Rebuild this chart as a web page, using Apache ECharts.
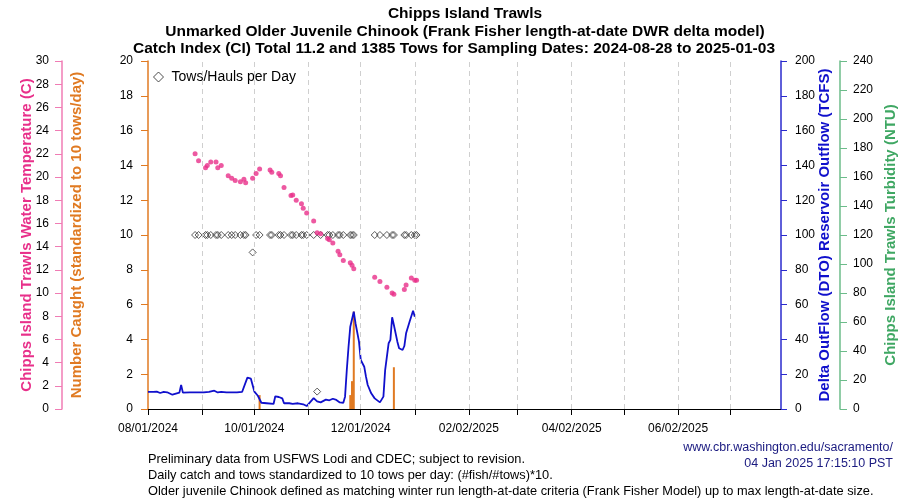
<!DOCTYPE html>
<html><head><meta charset="utf-8">
<script src="https://cdn.jsdelivr.net/npm/echarts@6/dist/echarts.min.js"></script>
<style>html,body{margin:0;padding:0;background:#fff}#c{width:900px;height:500px}</style>
</head><body><div id="c"></div>
<script>
// ---- data ----
const xStartDate = '2024-08-01';
const xEndDate = '2025-07-30';
const monthTicks = ['2024-08-01','2024-09-01','2024-10-01','2024-11-01','2024-12-01','2025-01-01',
  '2025-02-01','2025-03-01','2025-04-01','2025-05-01','2025-06-01','2025-07-01'];
const labelDates = ['2024-08-01','2024-10-01','2024-12-01','2025-02-01','2025-04-01','2025-06-01'];
const tickLabels = ['08/01/2024','10/01/2024','12/01/2024','02/02/2025','04/02/2025','06/02/2025'];

const tempDates = ['2024-08-28','2024-08-30','2024-09-03','2024-09-04','2024-09-06','2024-09-09','2024-09-10',
  '2024-09-12','2024-09-16','2024-09-18','2024-09-20','2024-09-23','2024-09-25','2024-09-26','2024-09-30',
  '2024-10-02','2024-10-04','2024-10-10','2024-10-11','2024-10-15','2024-10-16','2024-10-18','2024-10-22',
  '2024-10-23','2024-10-25','2024-10-28','2024-10-29','2024-10-31','2024-11-04','2024-11-06','2024-11-08',
  '2024-11-12','2024-11-13','2024-11-15','2024-11-18','2024-11-19','2024-11-21','2024-11-25','2024-11-26',
  '2024-11-27','2024-12-09','2024-12-12','2024-12-16','2024-12-19','2024-12-20','2024-12-26','2024-12-27',
  '2024-12-30','2025-01-01','2025-01-02'];
const tempValues = [22.0,21.4,20.8,21.0,21.3,21.3,20.8,
  21.0,20.1,19.9,19.7,19.6,19.8,19.5,19.9,
  20.3,20.7,20.6,20.4,20.3,20.1,19.1,18.4,
  18.45,18.0,17.7,17.3,16.9,16.2,15.2,15.1,
  14.7,14.6,14.3,13.6,13.3,12.8,12.6,12.4,
  12.1,11.35,11.0,10.5,10.0,9.9,10.3,10.7,
  11.3,11.1,11.1];

const towDates = tempDates;
const towValues = [10,10,10,10,10,10,10,
  10,10,10,10,10,10,10,9,
  10,10,10,10,10,10,10,10,
  10,10,10,10,10,10,1,10,
  10,10,10,10,10,10,10,10,
  10,10,10,10,10,10,10,10,
  10,10,10];

const catchDates = ['2024-10-04','2024-11-25','2024-11-26','2024-11-27','2024-12-20'];
const catchValues = [0.8,0.8,1.6,5.6,2.4];

const flowDates = ['2024-08-01','2024-08-04','2024-08-06','2024-08-08','2024-08-10','2024-08-12','2024-08-15',
  '2024-08-17','2024-08-19','2024-08-20','2024-08-21','2024-08-25','2024-08-29','2024-09-02','2024-09-05',
  '2024-09-08','2024-09-10','2024-09-12','2024-09-15','2024-09-18','2024-09-21','2024-09-24','2024-09-25',
  '2024-09-27','2024-09-29','2024-09-30','2024-10-01','2024-10-03','2024-10-05','2024-10-08','2024-10-12',
  '2024-10-13','2024-10-15','2024-10-17','2024-10-18','2024-10-21','2024-10-23','2024-10-26','2024-10-27',
  '2024-10-29','2024-10-31','2024-11-02','2024-11-04','2024-11-06','2024-11-08','2024-11-09','2024-11-11',
  '2024-11-12','2024-11-13','2024-11-15','2024-11-17','2024-11-19','2024-11-21','2024-11-22','2024-11-23',
  '2024-11-24','2024-11-25','2024-11-27','2024-11-28','2024-11-30','2024-12-01','2024-12-03','2024-12-04',
  '2024-12-05','2024-12-07','2024-12-09','2024-12-12','2024-12-14','2024-12-15','2024-12-17','2024-12-18',
  '2024-12-19','2024-12-20','2024-12-22','2024-12-23','2024-12-25','2024-12-26','2024-12-27','2024-12-29',
  '2024-12-31','2025-01-01'];
const flowValues = [9.8,9.8,10.0,9.2,9.8,9.6,8.2,
  8.8,9.4,13.8,9.4,9.5,9.5,9.5,9.8,
  10.5,9.5,9.9,9.5,9.6,9.5,9.9,9.4,
  18.0,17.4,17.4,10.0,7.6,3.6,3.3,2.9,
  7.3,6.9,6.1,3.3,3.3,3.0,3.3,2.7,
  2.7,1.7,4.0,6.3,4.4,3.8,4.6,5.4,
  6.3,5.0,5.9,5.2,3.8,3.6,7.1,22.4,
  35.8,47.3,55.9,49.3,38.7,28.2,24.3,18.6,
  13.8,9.0,6.1,3.8,7.1,22.4,37.8,39.7,
  52.7,48.3,38.7,34.9,33.9,36.2,43.5,50.2,
  56.5,53.0];

// ---- helpers ----
function ts(d){ const p = d.split('-').map(Number); return Date.UTC(p[0], p[1]-1, p[2]); }
function pairs(ds, vs){ return ds.map((d,i)=>[ts(d), vs[i]]); }
const labelMap = {};
labelDates.forEach((d,i)=>{ labelMap[ts(d)] = tickLabels[i]; });

const FONT = 'Liberation Sans';
const PINK = '#E8308A', ORANGE = '#E07A22', BLUE = '#1010CC', GREEN = '#3FA763';
const titleStyle = {fontFamily: FONT, fontSize: 15.5, fontWeight: 'bold', color: '#000'};

const chart = echarts.init(document.getElementById('c'), null, {renderer:'canvas'});
chart.setOption({
  animation: false,
  backgroundColor: '#fff',
  textStyle: {fontFamily: FONT},
  title: [
    {text: 'Chipps Island Trawls', left: 465, top: 6, textAlign: 'center', padding: 0, textStyle: titleStyle},
    {text: 'Unmarked Older Juvenile Chinook (Frank Fisher length-at-date DWR delta model)', left: 465, top: 24, textAlign: 'center', padding: 0, textStyle: titleStyle},
    {text: 'Catch Index (CI) Total 11.2 and 1385 Tows for Sampling Dates: 2024-08-28 to 2025-01-03', left: 454, top: 41, textAlign: 'center', padding: 0, textStyle: titleStyle},
    {text: 'Preliminary data from USFWS Lodi and CDEC; subject to revision.\nDaily catch and tows standardized to 10 tows per day: (#fish/#tows)*10.\nOlder juvenile Chinook defined as matching winter run length-at-date criteria (Frank Fisher Model) up to max length-at-date size.',
     left: 148, top: 451, padding: 0,
     textStyle: {fontFamily: FONT, fontSize: 12.8, fontWeight: 'normal', color: '#000', lineHeight: 16}},
    {text: 'www.cbr.washington.edu/sacramento/\n04 Jan 2025 17:15:10 PST',
     left: 893, top: 440, textAlign: 'right', padding: 0,
     textStyle: {fontFamily: FONT, fontSize: 12.5, fontWeight: 'normal', color: '#1A1A80', lineHeight: 16, align: 'right'}}
  ],
  legend: {
    data: [{name: 'Tows/Hauls per Day', icon: 'diamond',
            itemStyle: {color: '#fff', borderColor: '#222', borderWidth: 1}}],
    left: 153, top: 70, itemWidth: 10, itemHeight: 10, itemGap: 5, padding: 0,
    textStyle: {fontFamily: FONT, fontSize: 14, color: '#000', padding: [0,0,0,3]}
  },
  grid: {left: 148, right: 119, top: 61, bottom: 91, containLabel: false, outerBoundsMode: 'none'},
  xAxis: {
    type: 'value', min: ts(xStartDate), max: ts(xEndDate),
    axisLine: {show: true, onZero: false, lineStyle: {color: '#000', width: 1}},
    axisTick: {show: true, length: 6, lineStyle: {color: '#000'}, customValues: monthTicks.map(ts)},
    axisLabel: {show: true, fontFamily: FONT, fontSize: 12, color: '#000', margin: 14,
      customValues: labelDates.map(ts),
      formatter: function(v){ return labelMap[v] || ''; }},
    splitLine: {show: false}
  },
  yAxis: [
    {type: 'value', position: 'left', offset: 0, min: 0, max: 20, interval: 2,
     name: 'Number Caught (standardized to 10 tows/day)', nameLocation: 'middle', nameGap: 64, nameMoveOverlap: false,
     nameTextStyle: {fontFamily: FONT, fontSize: 15, fontWeight: 'bold', color: ORANGE},
     axisLine: {show: true, lineStyle: {color: ORANGE, width: 1.5}},
     axisTick: {show: true, length: 7, lineStyle: {color: ORANGE}},
     axisLabel: {fontFamily: FONT, fontSize: 12, color: '#000', margin: 15},
     splitLine: {show: false}},
    {type: 'value', position: 'left', offset: 86, min: 0, max: 30, interval: 2,
     name: 'Chipps Island Trawls Water Temperature (C)', nameLocation: 'middle', nameGap: 28, nameMoveOverlap: false,
     nameTextStyle: {fontFamily: FONT, fontSize: 15, fontWeight: 'bold', color: PINK},
     axisLine: {show: true, lineStyle: {color: '#F07CB4', width: 1.5}},
     axisTick: {show: true, length: 7, lineStyle: {color: '#F07CB4'}},
     axisLabel: {fontFamily: FONT, fontSize: 12, color: '#000', margin: 13},
     splitLine: {show: false}},
    {type: 'value', position: 'right', offset: 0, min: 0, max: 200, interval: 20,
     name: 'Delta OutFlow (DTO) Reservoir Outflow (TCFS)', nameLocation: 'middle', nameGap: 36, nameMoveOverlap: false,
     nameTextStyle: {fontFamily: FONT, fontSize: 15, fontWeight: 'bold', color: BLUE},
     axisLine: {show: true, lineStyle: {color: '#2A2ACC', width: 1.5}},
     axisTick: {show: true, length: 6, lineStyle: {color: '#2A2ACC'}},
     axisLabel: {fontFamily: FONT, fontSize: 12, color: '#000', margin: 14},
     splitLine: {show: false}},
    {type: 'value', position: 'right', offset: 59, min: 0, max: 240, interval: 20,
     name: 'Chipps Island Trawls Turbidity (NTU)', nameLocation: 'middle', nameGap: 43, nameMoveOverlap: false,
     nameTextStyle: {fontFamily: FONT, fontSize: 15, fontWeight: 'bold', color: GREEN},
     axisLine: {show: true, lineStyle: {color: '#6CBC8A', width: 1.5}},
     axisTick: {show: true, length: 7, lineStyle: {color: '#6CBC8A'}},
     axisLabel: {fontFamily: FONT, fontSize: 12, color: '#000', margin: 13},
     splitLine: {show: false}}
  ],
  series: [
    {name: 'grid', type: 'line', data: [], z: 1, silent: true,
     markLine: {symbol: 'none', silent: true, label: {show: false},
       lineStyle: {type: [5, 4], color: '#CFCFCF', width: 1},
       emphasis: {disabled: true},
       data: monthTicks.slice(1).map(d => ({xAxis: ts(d)}))}},
    {name: 'Catch', type: 'bar', yAxisIndex: 0, barWidth: 2, z: 2,
     itemStyle: {color: ORANGE},
     data: pairs(catchDates, catchValues)},
    {name: 'Flow', type: 'line', yAxisIndex: 2, showSymbol: false, z: 3,
     lineStyle: {color: BLUE, width: 1.8}, itemStyle: {color: BLUE},
     data: pairs(flowDates, flowValues)},
    {name: 'Tows/Hauls per Day', type: 'scatter', yAxisIndex: 0, symbol: 'diamond', symbolSize: 7, z: 4,
     itemStyle: {color: 'rgba(255,255,255,0)', borderColor: '#333', borderWidth: 1},
     data: pairs(towDates, towValues)},
    {name: 'Temperature', type: 'scatter', yAxisIndex: 1, symbol: 'circle', symbolSize: 5, z: 5,
     itemStyle: {color: PINK},
     data: pairs(tempDates, tempValues)}
  ]
});
</script></body></html>
